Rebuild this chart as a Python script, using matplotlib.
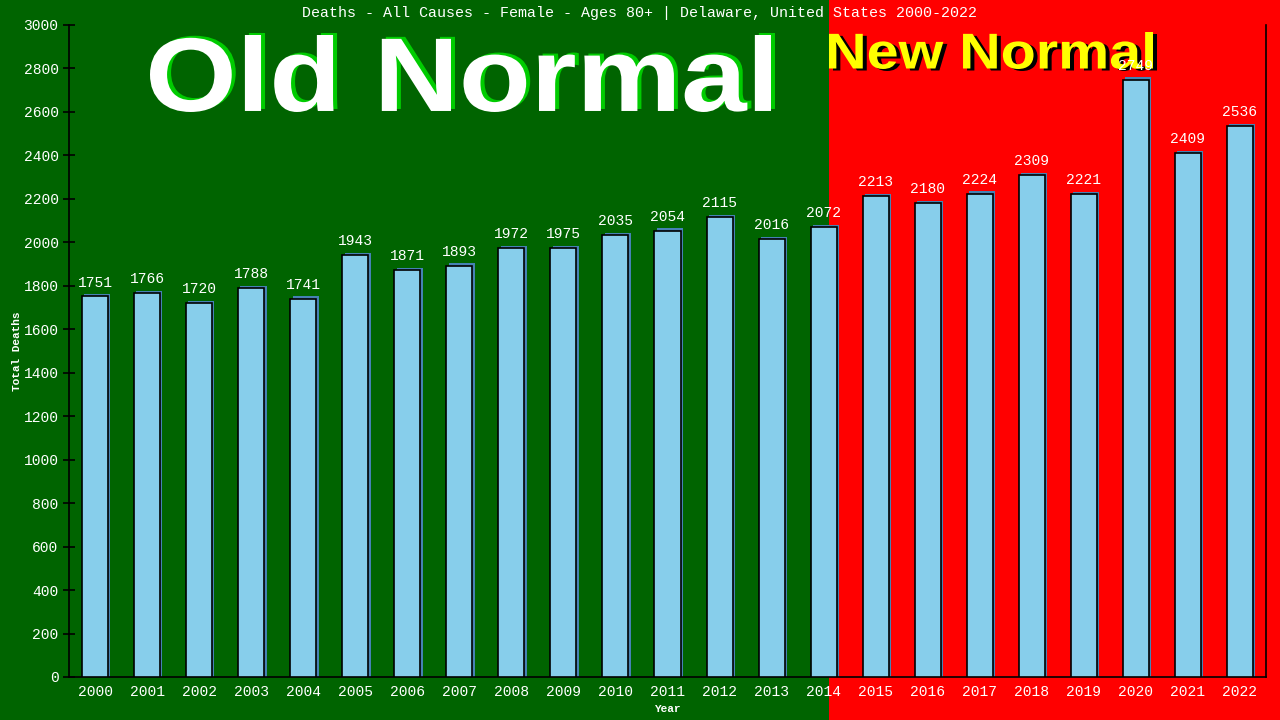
import matplotlib
matplotlib.use('Agg')
from matplotlib import pyplot as plt
from matplotlib.textpath import TextPath
from matplotlib.patches import PathPatch, Rectangle
from matplotlib.font_manager import FontProperties
from matplotlib.transforms import Affine2D, IdentityTransform

years = [str(y) for y in range(2000, 2023)]
deaths = [1751, 1766, 1720, 1788, 1741, 1943, 1871, 1893, 1972, 1975, 2035,
          2054, 2115, 2016, 2072, 2213, 2180, 2224, 2309, 2221, 2749, 2409, 2536]
y_ticks = list(range(0, 3001, 200))
title = "Deaths - All Causes - Female - Ages 80+ | Delaware, United States 2000-2022"

W, H = 1280, 720
GREEN = '#006400'
RED = '#ff0000'
MONO = 'Liberation Mono'


def banner(fig, text, x0, x1, ytop, ybot, color, shadow, dx, dy):
    # stretched bold text, box given in image pixels (y from top)
    prop = FontProperties(family='Liberation Sans', weight='bold')
    tp = TextPath((0, 0), text, size=100, prop=prop)
    ext = tp.get_extents()
    sx = (x1 - x0) / ext.width
    sy = (ybot - ytop) / ext.height
    base = Affine2D().translate(-ext.x0, -ext.y0).scale(sx, sy)
    for (ox, oy), c, z in [((dx, -dy), shadow, -3), ((0, 0), color, -2)]:
        tr = base + Affine2D().translate(x0 + ox, H - ybot + oy)
        p = PathPatch(tr.transform_path(tp), facecolor=c, edgecolor='none',
                      transform=IdentityTransform(), zorder=z)
        fig.add_artist(p)


fig = plt.figure(figsize=(12.8, 7.2), dpi=100, facecolor=GREEN)
fig.add_artist(Rectangle((829 / W, 0), 1 - 829 / W, 1, transform=fig.transFigure,
                         facecolor=RED, edgecolor='none', zorder=-5))

banner(fig, "Old Normal", 150, 771, 35, 112, 'white', '#00cc00', 4, -2)
banner(fig, "New Normal", 829, 1153, 32, 69, '#ffff00', 'black', 4, 2)

ax = fig.add_axes([69 / W, (H - 677) / H, (1266 - 69) / W, (677 - 25) / H])
ax.set_facecolor('none')
ax.set_zorder(1)

x = list(range(len(years)))
# blue drop shadow peeking out on the right / top of each bar
ax.bar([i + 0.045 for i in x], [d + 10 for d in deaths], width=0.5, color='#4682b4',
       edgecolor='none', zorder=2)
ax.bar(x, deaths, width=0.5, color='#87ceeb', edgecolor='black', linewidth=1.2, zorder=3)
for i, d in zip(x, deaths):
    ax.annotate(str(d), (i, d), xytext=(0, 5), textcoords='offset points',
                ha='center', va='bottom', color='white', fontsize=10.5,
                family=MONO, zorder=5)

ax.set_xlim(-0.5, len(years) - 0.5)
ax.set_ylim(0, 3000)
ax.set_xticks(x)
ax.set_xticklabels(years, color='white', fontsize=10.5, family=MONO)
ax.set_yticks(y_ticks)
ax.set_yticklabels([str(t) for t in y_ticks], color='white', fontsize=10.5, family=MONO)
ax.tick_params(axis='x', length=0, pad=6)
ax.tick_params(axis='y', direction='inout', length=9, width=1.2, color='black', pad=3)
for s in ['left', 'bottom', 'right']:
    ax.spines[s].set_color('black')
    ax.spines[s].set_linewidth(1.2)
ax.spines['top'].set_visible(False)

ax.set_xlabel('Year', color='white', fontsize=8, family=MONO, weight='bold', labelpad=3)
ax.set_ylabel('Total Deaths', color='white', fontsize=8, family=MONO, weight='bold', labelpad=1)

fig.text(0.5, 1 - 13 / H, title, ha='center', va='center', color='white',
         fontsize=10.8, family=MONO)

fig.savefig('out.png', dpi=100, facecolor=fig.get_facecolor())
